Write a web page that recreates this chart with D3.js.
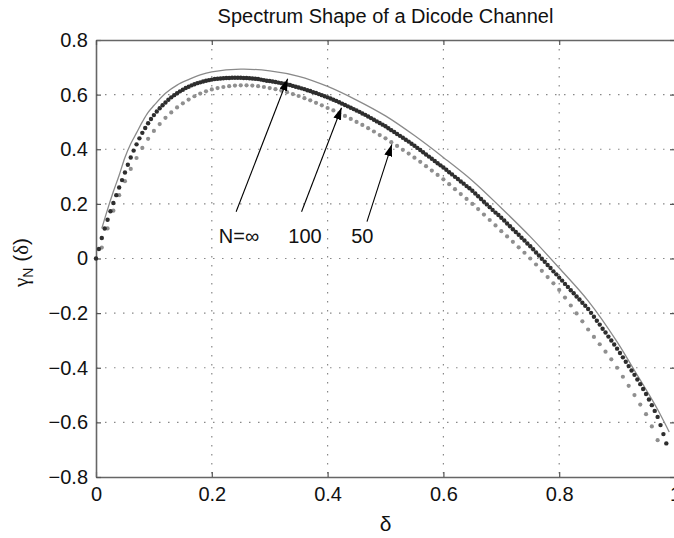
<!DOCTYPE html>
<html>
<head>
<meta charset="utf-8">
<script src="https://cdn.jsdelivr.net/npm/d3@7"></script>
<style>
  body { margin: 0; background: #fff; }
  text { font-family: "Liberation Sans", Arial, sans-serif; }
</style>
</head>
<body>
<script>
// tick values
const xTicks = [0, 0.2, 0.4, 0.6, 0.8, 1];
const yTicks = [-0.8, -0.6, -0.4, -0.2, 0, 0.2, 0.4, 0.6, 0.8];

// thin reference curve (N = infinity)
const thinDelta = [0.01,0.02,0.03,0.04,0.05,0.06,0.07,0.08,0.09,0.10,0.12,0.14,0.16,0.18,0.20,
                   0.25,0.30,0.35,0.40,0.45,0.50,0.55,0.60,0.65,0.70,0.75,0.80,0.85,0.90,0.93,0.95,0.97,0.99];
const thinGamma = [0.11,0.18,0.245,0.305,0.37,0.42,0.46,0.50,0.535,0.56,0.605,0.635,0.655,0.672,0.683,
                   0.693,0.687,0.667,0.63,0.58,0.522,0.45,0.37,0.285,0.185,0.08,-0.035,-0.155,-0.305,-0.41,-0.48,-0.553,-0.635];

// dark markers, delta step 0.005 starting at 0
const darkStep = 0.005;
const darkGamma = [
  0.000, 0.035, 0.075, 0.110, 0.142, 0.173, 0.203, 0.232, 0.260, 0.287,
  0.315, 0.343, 0.370, 0.395, 0.418, 0.440, 0.460, 0.478, 0.495, 0.511,
  0.525, 0.538, 0.550, 0.561, 0.571, 0.581, 0.590, 0.598, 0.605, 0.612,
  0.618, 0.624, 0.629, 0.634, 0.638, 0.642, 0.645, 0.648, 0.651, 0.653,
  0.655, 0.657, 0.658, 0.659, 0.660, 0.661, 0.661, 0.662, 0.662, 0.662,
  0.662, 0.661, 0.661, 0.660, 0.659, 0.658, 0.657, 0.655, 0.653, 0.651,
  0.650, 0.648, 0.646, 0.644, 0.642, 0.640, 0.637, 0.635, 0.632, 0.629,
  0.626, 0.623, 0.620, 0.616, 0.613, 0.609, 0.606, 0.602, 0.598, 0.594,
  0.590, 0.586, 0.581, 0.577, 0.572, 0.567, 0.562, 0.557, 0.552, 0.547,
  0.542, 0.537, 0.531, 0.526, 0.520, 0.514, 0.508, 0.502, 0.496, 0.490,
  0.484, 0.477, 0.470, 0.463, 0.456, 0.449, 0.442, 0.435, 0.428, 0.420,
  0.413, 0.405, 0.397, 0.389, 0.381, 0.373, 0.365, 0.357, 0.349, 0.341,
  0.333, 0.325, 0.316, 0.308, 0.299, 0.291, 0.282, 0.274, 0.265, 0.257,
  0.248, 0.238, 0.228, 0.218, 0.208, 0.198, 0.188, 0.178, 0.168, 0.159,
  0.149, 0.139, 0.128, 0.118, 0.107, 0.097, 0.087, 0.076, 0.066, 0.055,
  0.045, 0.034, 0.022, 0.011, -0.001, -0.012, -0.024, -0.035, -0.047, -0.058,
  -0.070, -0.081, -0.093, -0.104, -0.116, -0.127, -0.139, -0.150, -0.162, -0.173,
  -0.185, -0.199, -0.213, -0.228, -0.242, -0.257, -0.271, -0.286, -0.300, -0.315,
  -0.330, -0.346, -0.362, -0.378, -0.394, -0.410, -0.426, -0.443, -0.460, -0.478,
  -0.496, -0.516, -0.537, -0.558, -0.580, -0.610, -0.643, -0.677
];

// gray markers, delta step 0.01 starting at 0.01
const grayStep = 0.01;
const grayGamma = [
  0.040, 0.110, 0.175, 0.232, 0.283, 0.328, 0.368, 0.405, 0.438, 0.467,
  0.492, 0.515, 0.535, 0.553, 0.568, 0.582, 0.594, 0.604, 0.612, 0.619,
  0.624, 0.628, 0.631, 0.633, 0.634, 0.634, 0.633, 0.631, 0.628, 0.624,
  0.620, 0.615, 0.609, 0.602, 0.595, 0.587, 0.579, 0.570, 0.561, 0.551,
  0.542, 0.532, 0.522, 0.511, 0.500, 0.489, 0.477, 0.465, 0.452, 0.440,
  0.426, 0.412, 0.398, 0.384, 0.369, 0.354, 0.338, 0.322, 0.306, 0.290,
  0.272, 0.254, 0.236, 0.218, 0.200, 0.181, 0.161, 0.141, 0.121, 0.100,
  0.081, 0.061, 0.041, 0.021, 0.000, -0.022, -0.045, -0.068, -0.091, -0.115,
  -0.143, -0.172, -0.201, -0.230, -0.260, -0.287, -0.314, -0.341, -0.369, -0.400,
  -0.433, -0.466, -0.500, -0.535, -0.570, -0.615, -0.665
];

// annotations: label, label position, arrow tail, arrow tip (data coords)
const labels = ["N=\u221e", "100", "50"];
const labelPos = [[0.247, 0.055], [0.361, 0.055], [0.46, 0.055]];
const arrowFrom = [[0.242, 0.171], [0.355, 0.171], [0.468, 0.135]];
const arrowTo = [[0.331, 0.658], [0.424, 0.552], [0.511, 0.418]];

const width = 674, height = 538;
const mLeft = 96, mRight = 675, mTop = 40, mBottom = 477;

const x = d3.scaleLinear().domain([0, 1]).range([mLeft, mRight]);
const y = d3.scaleLinear().domain([-0.8, 0.8]).range([mBottom, mTop]);

const svg = d3.select("body").append("svg")
  .attr("width", width).attr("height", height);

svg.append("defs").append("marker")
  .attr("id", "head")
  .attr("viewBox", "0 0 12 8")
  .attr("refX", 12).attr("refY", 4)
  .attr("markerWidth", 12).attr("markerHeight", 8)
  .attr("markerUnits", "userSpaceOnUse")
  .attr("orient", "auto")
  .append("path").attr("d", "M0,0 L12,4 L0,8 Z").attr("fill", "#000");

// grid
const grid = svg.append("g");
grid.selectAll(".gx").data(xTicks.slice(1, -1)).enter().append("line")
  .attr("x1", d => x(d)).attr("x2", d => x(d))
  .attr("y1", y(0.8)).attr("y2", y(-0.8))
  .attr("stroke", "#888").attr("stroke-width", 1.2).attr("stroke-dasharray", "1.5,7.5");
grid.selectAll(".gy").data(yTicks.slice(1, -1)).enter().append("line")
  .attr("y1", d => y(d)).attr("y2", d => y(d))
  .attr("x1", x(0)).attr("x2", x(1))
  .attr("stroke", "#888").attr("stroke-width", 1.2).attr("stroke-dasharray", "1.5,7.5");

// axes
const fmt = d => d === 0 ? "0" : (d < 0 ? "\u2212" + (-d) : String(d));
function styleAxis(g) {
  g.select(".domain").attr("stroke", "#666").attr("stroke-width", 1.6);
  g.selectAll(".tick line").attr("stroke", "#555").attr("stroke-width", 1.2);
  g.selectAll("text").attr("font-size", 20).attr("fill", "#111")
    .attr("font-family", "Liberation Sans, Arial, sans-serif");
}
svg.append("g").attr("transform", `translate(0,${mBottom})`)
  .call(d3.axisBottom(x).tickValues(xTicks).tickFormat(fmt).tickSizeInner(-5).tickSizeOuter(0).tickPadding(10))
  .call(styleAxis);
svg.append("g").attr("transform", `translate(${mLeft},0)`)
  .call(d3.axisLeft(y).tickValues(yTicks).tickFormat(fmt).tickSizeInner(-5).tickSizeOuter(0).tickPadding(8))
  .call(styleAxis);
svg.append("g").attr("transform", `translate(0,${mTop})`)
  .call(d3.axisTop(x).tickValues(xTicks).tickFormat("").tickSizeInner(-5).tickSizeOuter(0))
  .call(styleAxis);
svg.append("g").attr("transform", `translate(${mRight},0)`)
  .call(d3.axisRight(y).tickValues(yTicks).tickFormat("").tickSizeInner(-5).tickSizeOuter(0))
  .call(styleAxis);

// thin curve
const thinData = thinDelta.map((d, i) => [d, thinGamma[i]]);
svg.append("path").datum(thinData)
  .attr("fill", "none").attr("stroke", "#8a8a8a").attr("stroke-width", 1.3)
  .attr("d", d3.line().x(d => x(d[0])).y(d => y(d[1])).curve(d3.curveCatmullRom));

// gray markers
svg.append("g").selectAll("circle").data(grayGamma).enter().append("circle")
  .attr("cx", (d, i) => x((i + 1) * grayStep)).attr("cy", d => y(d))
  .attr("r", 2.1).attr("fill", "#8f8f8f");

// dark markers
svg.append("g").selectAll("circle").data(darkGamma).enter().append("circle")
  .attr("cx", (d, i) => x(i * darkStep)).attr("cy", d => y(d))
  .attr("r", 2.2).attr("fill", "#2e2e2e");

// arrows and labels
svg.append("g").selectAll("line").data(arrowFrom).enter().append("line")
  .attr("x1", d => x(d[0])).attr("y1", d => y(d[1]))
  .attr("x2", (d, i) => x(arrowTo[i][0])).attr("y2", (d, i) => y(arrowTo[i][1]))
  .attr("stroke", "#000").attr("stroke-width", 1.1).attr("marker-end", "url(#head)");
svg.append("g").selectAll("text").data(labels).enter().append("text")
  .attr("x", (d, i) => x(labelPos[i][0])).attr("y", (d, i) => y(labelPos[i][1]))
  .attr("text-anchor", "middle").attr("font-size", 20).attr("fill", "#111")
  .text(d => d);

// title and axis labels
svg.append("text")
  .attr("x", (mLeft + mRight) / 2).attr("y", 23)
  .attr("text-anchor", "middle").attr("font-size", 20).attr("fill", "#111")
  .text("Spectrum Shape of a Dicode Channel");

svg.append("text")
  .attr("x", x(0.5)).attr("y", 531)
  .attr("text-anchor", "middle").attr("font-size", 21).attr("fill", "#111")
  .attr("font-family", "Liberation Serif, serif")
  .text("\u03b4");

const yl = svg.append("text")
  .attr("transform", `translate(28,${(mTop + mBottom) / 2 + 4}) rotate(-90)`)
  .attr("text-anchor", "middle").attr("font-size", 21).attr("fill", "#111");
yl.append("tspan").attr("font-family", "Liberation Serif, serif").text("\u03b3");
yl.append("tspan").attr("font-size", 14).attr("dy", 5).text("N");
yl.append("tspan").attr("dy", -5).text(" (");
yl.append("tspan").attr("font-family", "Liberation Serif, serif").text("\u03b4");
yl.append("tspan").text(")");
</script>
</body>
</html>
